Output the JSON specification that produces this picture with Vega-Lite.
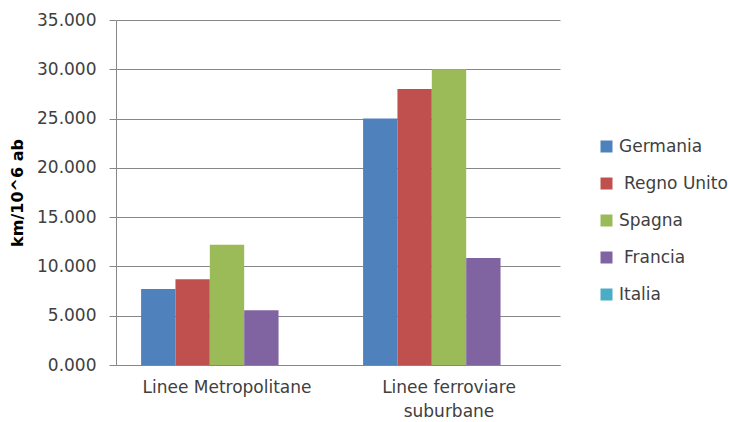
{
  "$schema": "https://vega.github.io/schema/vega-lite/v6.json",
  "width": 444,
  "height": 345,
  "autosize": "none",
  "padding": {"left": 116, "top": 20, "right": 169, "bottom": 57},
  "background": "white",
  "data": {
    "values": [
      {"categoria": "Linee Metropolitane", "paese": "Germania", "valore": 7.7},
      {"categoria": "Linee Metropolitane", "paese": "Regno Unito", "valore": 8.7},
      {"categoria": "Linee Metropolitane", "paese": "Spagna", "valore": 12.2},
      {"categoria": "Linee Metropolitane", "paese": "Francia", "valore": 5.55},
      {"categoria": "Linee Metropolitane", "paese": "Italia", "valore": 0},
      {"categoria": "Linee ferroviare suburbane", "paese": "Germania", "valore": 25.0},
      {"categoria": "Linee ferroviare suburbane", "paese": "Regno Unito", "valore": 28.0},
      {"categoria": "Linee ferroviare suburbane", "paese": "Spagna", "valore": 30.0},
      {"categoria": "Linee ferroviare suburbane", "paese": "Francia", "valore": 10.85},
      {"categoria": "Linee ferroviare suburbane", "paese": "Italia", "valore": 0}
    ]
  },
  "mark": {"type": "bar"},
  "encoding": {
    "x": {
      "field": "categoria",
      "type": "nominal",
      "sort": ["Linee Metropolitane", "Linee ferroviare suburbane"],
      "scale": {"paddingInner": 0, "paddingOuter": 0},
      "axis": {
        "title": null,
        "labelAngle": 0,
        "labelFont": "DejaVu Sans",
        "labelFontSize": 17,
        "labelColor": "#404040",
        "labelPadding": 22,
        "labelLineHeight": 24,
        "labelBaseline": "middle",
        "ticks": false,
        "domainColor": "#878787",
        "labelExpr": "datum.label == 'Linee ferroviare suburbane' ? ['Linee ferroviare', 'suburbane'] : datum.label"
      }
    },
    "xOffset": {
      "field": "paese",
      "type": "nominal",
      "sort": ["Germania", "Regno Unito", "Spagna", "Francia", "Italia"],
      "scale": {"paddingInner": 0, "paddingOuter": 0.73}
    },
    "y": {
      "field": "valore",
      "type": "quantitative",
      "scale": {"domain": [0, 35]},
      "axis": {
        "title": "km/10^6 ab",
        "titleFont": "DejaVu Sans",
        "titleFontSize": 16,
        "titleFontWeight": "bold",
        "titleColor": "#000000",
        "titlePadding": 11,
        "format": ".3f",
        "values": [0, 5, 10, 15, 20, 25, 30, 35],
        "labelFont": "DejaVu Sans",
        "labelFontSize": 17,
        "labelColor": "#404040",
        "labelPadding": 13,
        "tickSize": 7,
        "tickColor": "#878787",
        "domainColor": "#878787",
        "gridColor": "#878787",
        "grid": true
      }
    },
    "color": {
      "field": "paese",
      "type": "nominal",
      "sort": ["Germania", "Regno Unito", "Spagna", "Francia", "Italia"],
      "scale": {
        "domain": ["Germania", "Regno Unito", "Spagna", "Francia", "Italia"],
        "range": ["#4F81BD", "#C0504D", "#9BBB59", "#8064A2", "#4BACC6"]
      },
      "legend": {
        "title": null,
        "orient": "none",
        "legendX": 482,
        "legendY": 118,
        "symbolType": "square",
        "symbolSize": 144,
        "symbolStrokeWidth": 0,
        "labelFont": "DejaVu Sans",
        "labelFontSize": 17,
        "labelColor": "#404040",
        "labelOffset": 4,
        "rowPadding": 19,
        "encode": {
          "labels": {
            "update": {
              "dx": {"signal": "datum.value == 'Regno Unito' || datum.value == 'Francia' ? 5 : 0"}
            }
          }
        }
      }
    }
  },
  "config": {
    "view": {"stroke": null},
    "axis": {"gridWidth": 1, "domainWidth": 1}
  }
}
